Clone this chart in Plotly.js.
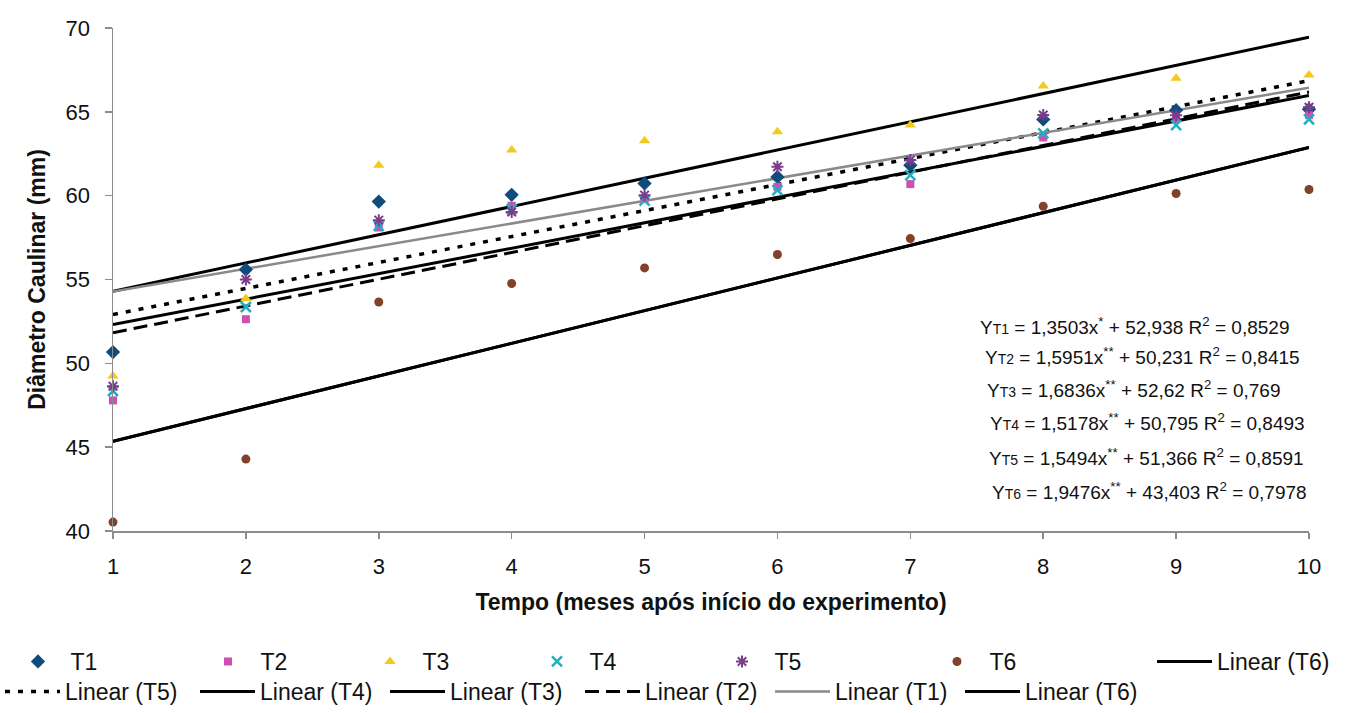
<!DOCTYPE html>
<html>
<head>
<meta charset="utf-8">
<script src="https://cdn.plot.ly/plotly-3.0.1.min.js"></script>
<style>html,body{margin:0;padding:0;background:#fff;}#chart{width:1357px;height:713px;}</style>
</head>
<body>
<div id="chart"></div>
<script>
// ---- data ----
var months = [1, 2, 3, 4, 5, 6, 7, 8, 9, 10];
var seriesNames = ["T1", "T2", "T3", "T4", "T5", "T6"];
var T1 = [50.67, 55.59, 59.65, 60.05, 60.73, 61.12, 61.82, 64.55, 65.10, 65.15];
var T2 = [47.79, 52.63, 58.10, 59.40, 59.80, 60.53, 60.69, 63.47, 64.60, 64.80];
var T3 = [49.24, 53.86, 61.82, 62.72, 63.27, 63.81, 64.21, 66.54, 67.00, 67.19];
var T4 = [48.35, 53.36, 58.20, 59.20, 59.70, 60.33, 61.22, 63.71, 64.21, 64.55];
var T5 = [48.63, 55.00, 58.54, 59.03, 60.03, 61.72, 62.12, 64.81, 64.80, 65.27];
var T6 = [40.53, 44.29, 53.66, 54.76, 55.69, 56.49, 57.44, 59.37, 60.13, 60.37];
// regression equations printed on the chart
var slopes = [1.3503, 1.5951, 1.6836, 1.5178, 1.5494, 1.9476];
var intercepts = [52.938, 50.231, 52.62, 50.795, 51.366, 43.403];
var r2 = [0.8529, 0.8415, 0.769, 0.8493, 0.8591, 0.7978];
var signif = ["*", "**", "**", "**", "**", "**"];
// texts
var xTitle = "Tempo (meses após início do experimento)";
var yTitle = "Diâmetro Caulinar (mm)";

// ---- styling ----
var FONT = "Arial, 'Liberation Sans', sans-serif";
var values = [T1, T2, T3, T4, T5, T6];
var markerStyles = [
  {symbol: "diamond", size: 11, color: "#0F4C7C"},
  {symbol: "square", size: 8, color: "#CF50B2"},
  {symbol: "triangle-up", size: 10, color: "#F2C91E"},
  {symbol: "x-thin-open", size: 10, color: "#21AEC3", line: {width: 2.5, color: "#21AEC3"}},
  {symbol: "asterisk-open", size: 10, color: "#7A3C8C", line: {width: 2, color: "#7A3C8C"}},
  {symbol: "circle", size: 9, color: "#83402A"}
];
var trendStyles = [
  {color: "#8A8A8A", width: 2.5, dash: "solid"},    // T1
  {color: "#000000", width: 3, dash: "14px,7px"},   // T2
  {color: "#000000", width: 3, dash: "solid"},      // T3
  {color: "#000000", width: 3, dash: "solid"},      // T4
  {color: "#000000", width: 3.5, dash: "5px,8px"},  // T5
  {color: "#000000", width: 3, dash: "solid"}       // T6
];

function fmt(v) { return String(v).replace(".", ","); }
function trendY(i, x) { return slopes[i] * x + intercepts[i]; }

var traces = [];
var xEnds = [months[0], months[months.length - 1]];

// trend lines (drawn first, underneath markers)
// second legend row order: T5, T4, T3, T2, T1, T6
var row2 = [4, 3, 2, 1, 0, 5];
var row2Widths = [125, 120, 125, 120, 120, null];
row2.forEach(function (i, k) {
  var t = {
    type: "scatter", mode: "lines",
    x: xEnds, y: xEnds.map(function (x) { return trendY(i, x); }),
    name: "Linear (" + seriesNames[i] + ")",
    line: trendStyles[i],
    legend: "legend2", legendrank: k + 1,
    hoverinfo: "skip"
  };
  if (row2Widths[k]) t.legendwidth = row2Widths[k];
  traces.push(t);
});
// the first-row "Linear (T6)" entry
traces.push({
  type: "scatter", mode: "lines",
  x: xEnds, y: xEnds.map(function (x) { return trendY(5, x); }),
  name: "Linear (T6)", line: trendStyles[5],
  legend: "legend3", hoverinfo: "skip"
});

var row1Widths = [120, 92, 97, 115, 145, null];
values.forEach(function (v, i) {
  var t = {
    type: "scatter", mode: "markers",
    x: months, y: v, name: seriesNames[i],
    marker: markerStyles[i], cliponaxis: false,
    legend: "legend", legendrank: i + 1
  };
  if (row1Widths[i]) t.legendwidth = row1Widths[i];
  traces.push(t);
});

// plot area in px
var L = 113, R = 1309, T = 28, B = 531;
function px2x(p) { return (p - L) / (R - L); }
function px2y(p) { return 1 - (p - T) / (B - T); }

var eqX = [978, 983, 985, 988, 987, 990];
var eqY = [326, 356, 389, 422, 457, 491];
var annotations = slopes.map(function (s, i) {
  return {
    xref: "paper", yref: "paper", x: px2x(eqX[i]), y: px2y(eqY[i]),
    xanchor: "left", yanchor: "middle", showarrow: false,
    text: "Y<span style=\"font-size:14px\">" + seriesNames[i] + "</span> = " + fmt(s) + "x<sup>" + signif[i] +
          "</sup> + " + fmt(intercepts[i]) + " R<sup>2</sup> = " + fmt(r2[i]),
    font: {family: FONT, size: 19, color: "#111"}
  };
});

var legendBase = {
  orientation: "h", xanchor: "left", yanchor: "top",
  itemwidth: 55, font: {size: 23, family: FONT, color: "#111"},
  bgcolor: "rgba(0,0,0,0)", traceorder: "normal", itemclick: false
};
function legendAt(pxX, y) {
  var o = JSON.parse(JSON.stringify(legendBase));
  o.x = px2x(pxX); o.y = y;
  return o;
}

var layout = {
  width: 1357, height: 713,
  margin: {l: L, r: 1357 - R, t: T, b: 713 - B, autoexpand: false},
  paper_bgcolor: "#ffffff", plot_bgcolor: "#ffffff",
  font: {family: FONT, color: "#111"},
  showlegend: true,
  xaxis: {
    range: [1, 10], dtick: 1, tick0: 1,
    showline: true, linecolor: "#8c8c8c", linewidth: 1.5,
    ticks: "outside", ticklen: 6, tickcolor: "#8c8c8c", tickwidth: 1.5,
    showgrid: false, zeroline: false,
    tickfont: {size: 22, family: FONT, color: "#111"}, ticklabelstandoff: 9,
    title: {text: "<b>" + xTitle + "</b>", font: {size: 23, family: FONT, color: "#111"}, standoff: 16}
  },
  yaxis: {
    range: [40, 70], dtick: 5,
    showline: true, linecolor: "#8c8c8c", linewidth: 1.5,
    ticks: "outside", ticklen: 7, tickcolor: "#8c8c8c", tickwidth: 1.5,
    showgrid: false, zeroline: false,
    tickfont: {size: 22, family: FONT, color: "#111"}, ticklabelstandoff: 10,
    title: {text: "<b>" + yTitle + "</b>", font: {size: 23, family: FONT, color: "#111"}, standoff: 13}
  },
  legend: legendAt(5.5, -0.2167),
  legend3: legendAt(1152, -0.2167),
  legend2: legendAt(0, -0.2763),
  annotations: annotations
};

Plotly.newPlot("chart", traces, layout, {displayModeBar: false, staticPlot: true});
</script>
</body>
</html>
